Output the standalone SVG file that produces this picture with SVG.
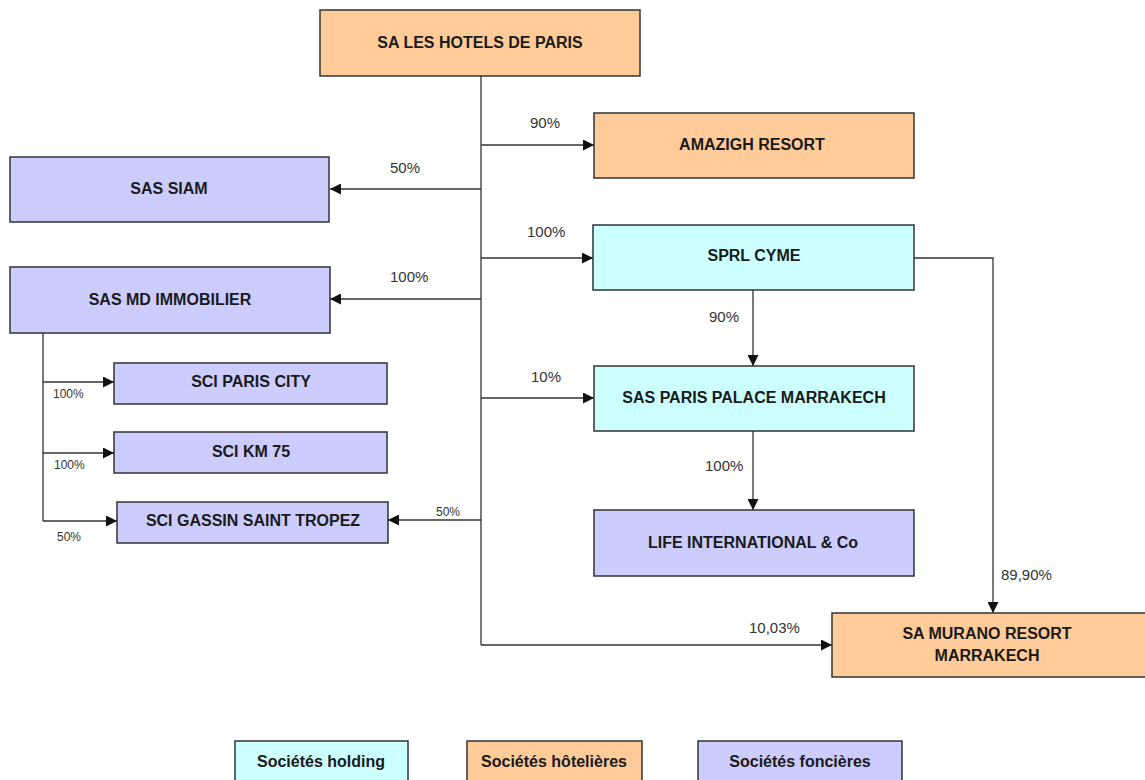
<svg xmlns="http://www.w3.org/2000/svg" width="1145" height="780" viewBox="0 0 1145 780">
<style>
.box{stroke:#333;stroke-width:1.5}
.h{fill:#CCFFFF}.o{fill:#FFCC99}.f{fill:#CCCCFF}
.t{font-family:"Liberation Sans",Arial,sans-serif;font-weight:bold;font-size:16px;fill:#1a1a1a;text-anchor:middle}
.p{font-family:"Liberation Sans",Arial,sans-serif;font-size:15px;fill:#333}
.ps{font-family:"Liberation Sans",Arial,sans-serif;font-size:12px;fill:#333}
.c{fill:none;stroke:#333;stroke-width:1.3}
</style>
<defs>
<marker id="a" viewBox="0 0 10 10" refX="10" refY="5" markerWidth="11" markerHeight="11" markerUnits="userSpaceOnUse" orient="auto">
<path d="M0,0 L10,5 L0,10 Z" fill="#111"/>
</marker>
</defs>
<rect width="1145" height="780" fill="#fff"/>
<g id="connectors">
<path class="c" d="M481,76 V645"/>
<path class="c" d="M481,145 H594" marker-end="url(#a)"/>
<path class="c" d="M481,189 H330" marker-end="url(#a)"/>
<path class="c" d="M481,258 H593" marker-end="url(#a)"/>
<path class="c" d="M481,299 H330" marker-end="url(#a)"/>
<path class="c" d="M481,398 H594" marker-end="url(#a)"/>
<path class="c" d="M481,520 H388" marker-end="url(#a)"/>
<path class="c" d="M481,645 H832" marker-end="url(#a)"/>
<path class="c" d="M914,258 H993 V613" marker-end="url(#a)"/>
<path class="c" d="M753,290 V366" marker-end="url(#a)"/>
<path class="c" d="M753,431 V510" marker-end="url(#a)"/>
<path class="c" d="M43,333 V521"/>
<path class="c" d="M43,382 H114" marker-end="url(#a)"/>
<path class="c" d="M43,453 H114" marker-end="url(#a)"/>
<path class="c" d="M43,521 H117" marker-end="url(#a)"/>
<text class="p" x="530" y="128">90%</text>
<text class="p" x="390" y="173">50%</text>
<text class="p" x="527" y="237">100%</text>
<text class="p" x="390" y="282">100%</text>
<text class="p" x="531" y="382">10%</text>
<text class="ps" x="436" y="516">50%</text>
<text class="p" x="749" y="633">10,03%</text>
<text class="p" x="1001" y="580">89,90%</text>
<text class="p" x="709" y="322">90%</text>
<text class="p" x="705" y="471">100%</text>
<text class="ps" x="53" y="398">100%</text>
<text class="ps" x="54" y="469">100%</text>
<text class="ps" x="57" y="541">50%</text>
</g>
<g id="n-hotels-paris"><rect class="box o" x="320" y="10" width="320" height="66"/><text class="t" x="480" y="48">SA LES HOTELS DE PARIS</text></g>
<g id="n-amazigh"><rect class="box o" x="594" y="113" width="320" height="65"/><text class="t" x="752" y="150">AMAZIGH RESORT</text></g>
<g id="n-siam"><rect class="box f" x="10" y="157" width="319" height="65"/><text class="t" x="169" y="194">SAS SIAM</text></g>
<g id="n-cyme"><rect class="box h" x="593" y="225" width="321" height="65"/><text class="t" x="754" y="261">SPRL CYME</text></g>
<g id="n-md"><rect class="box f" x="10" y="267" width="320" height="66"/><text class="t" x="170" y="305">SAS MD IMMOBILIER</text></g>
<g id="n-paris-city"><rect class="box f" x="114" y="363" width="273" height="41"/><text class="t" x="251" y="387">SCI PARIS CITY</text></g>
<g id="n-km75"><rect class="box f" x="114" y="432" width="273" height="41"/><text class="t" x="251" y="457">SCI KM 75</text></g>
<g id="n-gassin"><rect class="box f" x="117" y="502" width="271" height="41"/><text class="t" x="253" y="526">SCI GASSIN SAINT TROPEZ</text></g>
<g id="n-palace"><rect class="box h" x="594" y="366" width="320" height="65"/><text class="t" x="754" y="403">SAS PARIS PALACE MARRAKECH</text></g>
<g id="n-life"><rect class="box f" x="594" y="510" width="320" height="66"/><text class="t" x="753" y="548">LIFE INTERNATIONAL &amp; Co</text></g>
<g id="n-murano"><rect class="box o" x="832" y="613" width="320" height="64"/><text class="t" x="987" y="639">SA MURANO RESORT</text><text class="t" x="987" y="661">MARRAKECH</text></g>
<g id="legend-holding"><rect class="box h" x="235" y="741" width="173" height="50"/><text class="t" x="321" y="767">Sociétés holding</text></g>
<g id="legend-hotel"><rect class="box o" x="467" y="741" width="175" height="50"/><text class="t" x="554" y="767">Sociétés hôtelières</text></g>
<g id="legend-fonciere"><rect class="box f" x="698" y="741" width="204" height="50"/><text class="t" x="800" y="767">Sociétés foncières</text></g>
</svg>
